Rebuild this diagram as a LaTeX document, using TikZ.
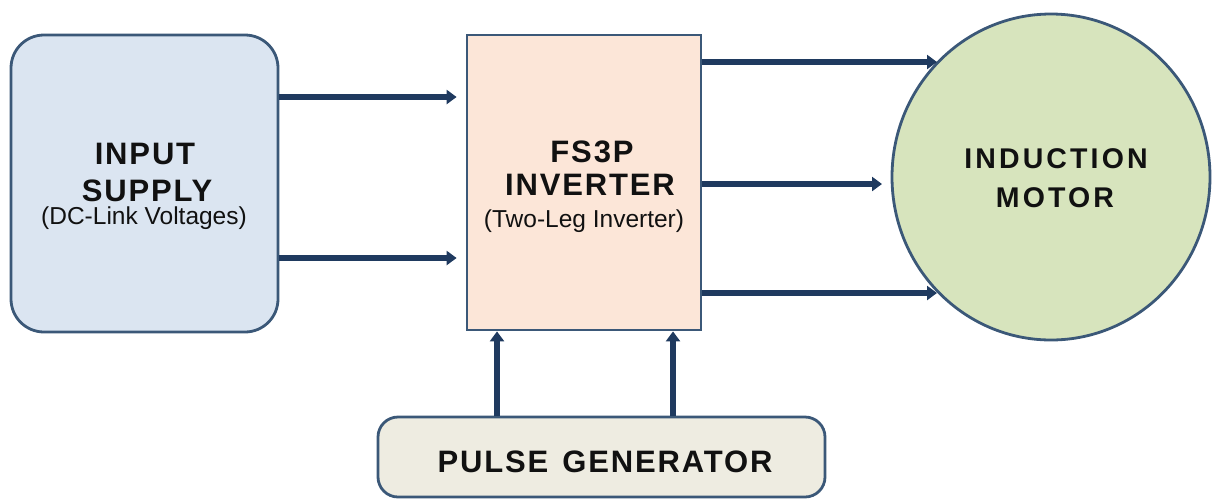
\documentclass[tikz,border=0pt]{standalone}
\usepackage{fontspec}
\setmainfont{Liberation Sans}
\newfontfamily\titlefam[LetterSpace=6]{Liberation Sans}
\newfontfamily\motorfam[LetterSpace=11]{Liberation Sans}
\usetikzlibrary{arrows.meta,shapes.geometric}

\definecolor{edgeblue}{HTML}{3B5878}
\definecolor{flowblue}{HTML}{1F3A5F}
\definecolor{supplyfill}{HTML}{DBE5F1}
\definecolor{invfill}{HTML}{FCE6D8}
\definecolor{motorfill}{HTML}{D7E4BD}
\definecolor{pulsefill}{HTML}{EEECE1}
\definecolor{ink}{HTML}{111111}

\begin{document}
\begin{tikzpicture}[x=1pt,y=-1pt,
  block/.style={draw=edgeblue,line width=2.8pt,inner sep=0pt},
  ttl/.style={font=\titlefam\bfseries\fontsize{31}{31}\selectfont,text=ink,anchor=base,inner sep=0pt},
  mttl/.style={ttl,font=\motorfam\bfseries\fontsize{28.5}{28.5}\selectfont},
  sub/.style={font=\fontsize{24.5}{24.5}\selectfont,text=ink,anchor=base,inner sep=0pt},
  flow/.style={draw=flowblue,line width=5.5pt,-{Triangle[length=10pt,width=14pt]}}]

\useasboundingbox (0,0) rectangle (1212,499);

% blocks
\node[block,fill=supplyfill,rounded corners=33pt,minimum width=267pt,minimum height=297pt] (supply) at (144.5,183.5) {};
\node[block,fill=invfill,minimum width=234pt,minimum height=295pt] (inv) at (584,182.5) {};
\node[block,ellipse,fill=motorfill,minimum width=318pt,minimum height=326pt] (motor) at (1051,177) {};
\node[block,fill=pulsefill,rounded corners=20pt,minimum width=447pt,minimum height=80pt] (pulse) at (601.5,457) {};

% labels
\node[ttl] (supplyA) at (145,164) {INPUT};
\node[ttl] (supplyB) at (147,201) {SUPPLY};
\node[sub] (supplyC) at (144,224) {(DC-Link Voltages)};
\node[ttl] (invA) at (592,162) {FS3P};
\node[ttl] (invB) at (590,195) {INVERTER};
\node[sub] (invC) at (584,227) {(Two-Leg Inverter)};
\node[mttl] (motorA) at (1056,168) {INDUCTION};
\node[mttl] (motorB) at (1055,207) {MOTOR};
\node[ttl] (pulseA) at (605,472) {PULSE\hspace{14pt}GENERATOR};

% arrow end points on the motor outline
\coordinate (mtop) at (937,62);
\coordinate (mmid) at (882,184);
\coordinate (mbot) at (937,293);

% supply -> inverter
\draw[flow,shorten >=9pt] (supply.east |- 0,97) -- (inv.west |- 0,97);
\draw[flow,shorten >=9pt] (supply.east |- 0,258) -- (inv.west |- 0,258);

% inverter -> motor
\draw[flow] (inv.east |- mtop) -- (mtop);
\draw[flow] (inv.east |- mmid) -- (mmid);
\draw[flow] (inv.east |- mbot) -- (mbot);

% pulse generator -> inverter
\draw[flow] (pulse.north -| 497,0) -- (inv.south -| 497,0);
\draw[flow] (pulse.north -| 673,0) -- (inv.south -| 673,0);
\end{tikzpicture}
\end{document}
